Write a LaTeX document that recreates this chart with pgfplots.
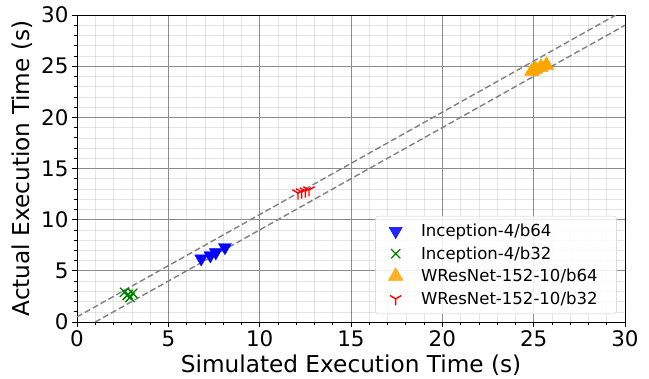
\documentclass[border=0pt]{standalone}
\usepackage{pgfplots}
\pgfplotsset{compat=1.18}
\usepackage{fontspec}
\setmainfont{DejaVu Sans}
\usetikzlibrary{plotmarks}
\definecolor{mblue}{RGB}{0,0,255}
\definecolor{mgreen}{RGB}{0,128,0}
\definecolor{morange}{RGB}{255,165,0}
\definecolor{mred}{RGB}{255,0,0}
\begin{document}
\begin{tikzpicture}
\begin{axis}[
  scale only axis,
  width=548bp, height=307bp,
  xmin=0, xmax=30, ymin=0, ymax=30,
  xtick={0,5,...,30}, ytick={0,5,...,30},
  minor tick num=4,
  tick align=outside,
  major tick length=5bp, minor tick length=3bp,
  tick style={black, line width=0.7pt},
  xtick pos=bottom, ytick pos=left,
  grid=both,
  major grid style={color=black!45, line width=0.8pt, solid},
  minor grid style={color=black, opacity=0.1, line width=0.5pt, solid},
  axis line style={black, line width=0.9pt},
  font=\fontsize{23.3}{27}\selectfont,
  /pgf/number format/assume math mode=true,
  ticklabel style={font=\fontsize{21.5}{25}\selectfont},
  xlabel={Simulated Execution Time (s)},
  ylabel={Actual Execution Time (s)},
  xlabel style={at={(axis description cs:0.5,-0.166)}, anchor=base},
  ylabel style={at={(axis description cs:-0.075,0.5)}, anchor=south, rotate=0},
  legend style={at={(axis description cs:0.985,0.026)}, anchor=south east,
    font=\fontsize{16.6}{19}\selectfont, draw=black!20, rounded corners=3pt,
    fill=white, fill opacity=0.85, text opacity=1, row sep=4.5bp, inner xsep=13pt, inner ysep=6pt,
    nodes={inner xsep=6bp},
    /tikz/every odd column/.append style={column sep=12bp}},
  legend cell align=left,
]
\addplot[gray, line width=1.4pt, dash pattern=on 6bp off 3bp, forget plot] coordinates {(0,0.5) (29.5,30)};
\addplot[gray, line width=1.4pt, dash pattern=on 6bp off 3bp, forget plot] coordinates {(1,0) (30,29)};
\addplot[only marks, mark=triangle*, mark options={rotate=180, fill=mblue, draw=mblue}, mark size=7.5bp] coordinates {
(6.8,6.2) (7.3,6.5) (7.6,6.8) (8.1,7.3)};
\addlegendentry{Inception-4/b64}
\addplot[only marks, mark=x, mark options={draw=mgreen, line width=1.3pt}, mark size=6.5bp] coordinates {
(2.6,2.9) (2.75,2.6) (2.9,2.4) (3.05,2.8) (2.8,2.7)};
\addlegendentry{Inception-4/b32}
\addplot[only marks, mark=triangle*, mark options={fill=morange, draw=morange}, mark size=8.5bp] coordinates {
(24.9,24.5) (25.1,24.7) (25.7,25.1) (25.4,24.9)};
\addlegendentry{WResNet-152-10/b64}
\addplot[only marks, mark=Mercedes star flipped, mark options={draw=mred, line width=1.4pt}, mark size=6.5bp] coordinates {
(12.1,12.6) (12.3,12.7) (12.5,12.8) (12.7,12.9)};
\addlegendentry{WResNet-152-10/b32}
\end{axis}
\pgfresetboundingbox
\useasboundingbox ([shift={(-77bp,-57bp)}]current axis.south west) rectangle ([shift={(24bp,15bp)}]current axis.north east);
\end{tikzpicture}
\end{document}
